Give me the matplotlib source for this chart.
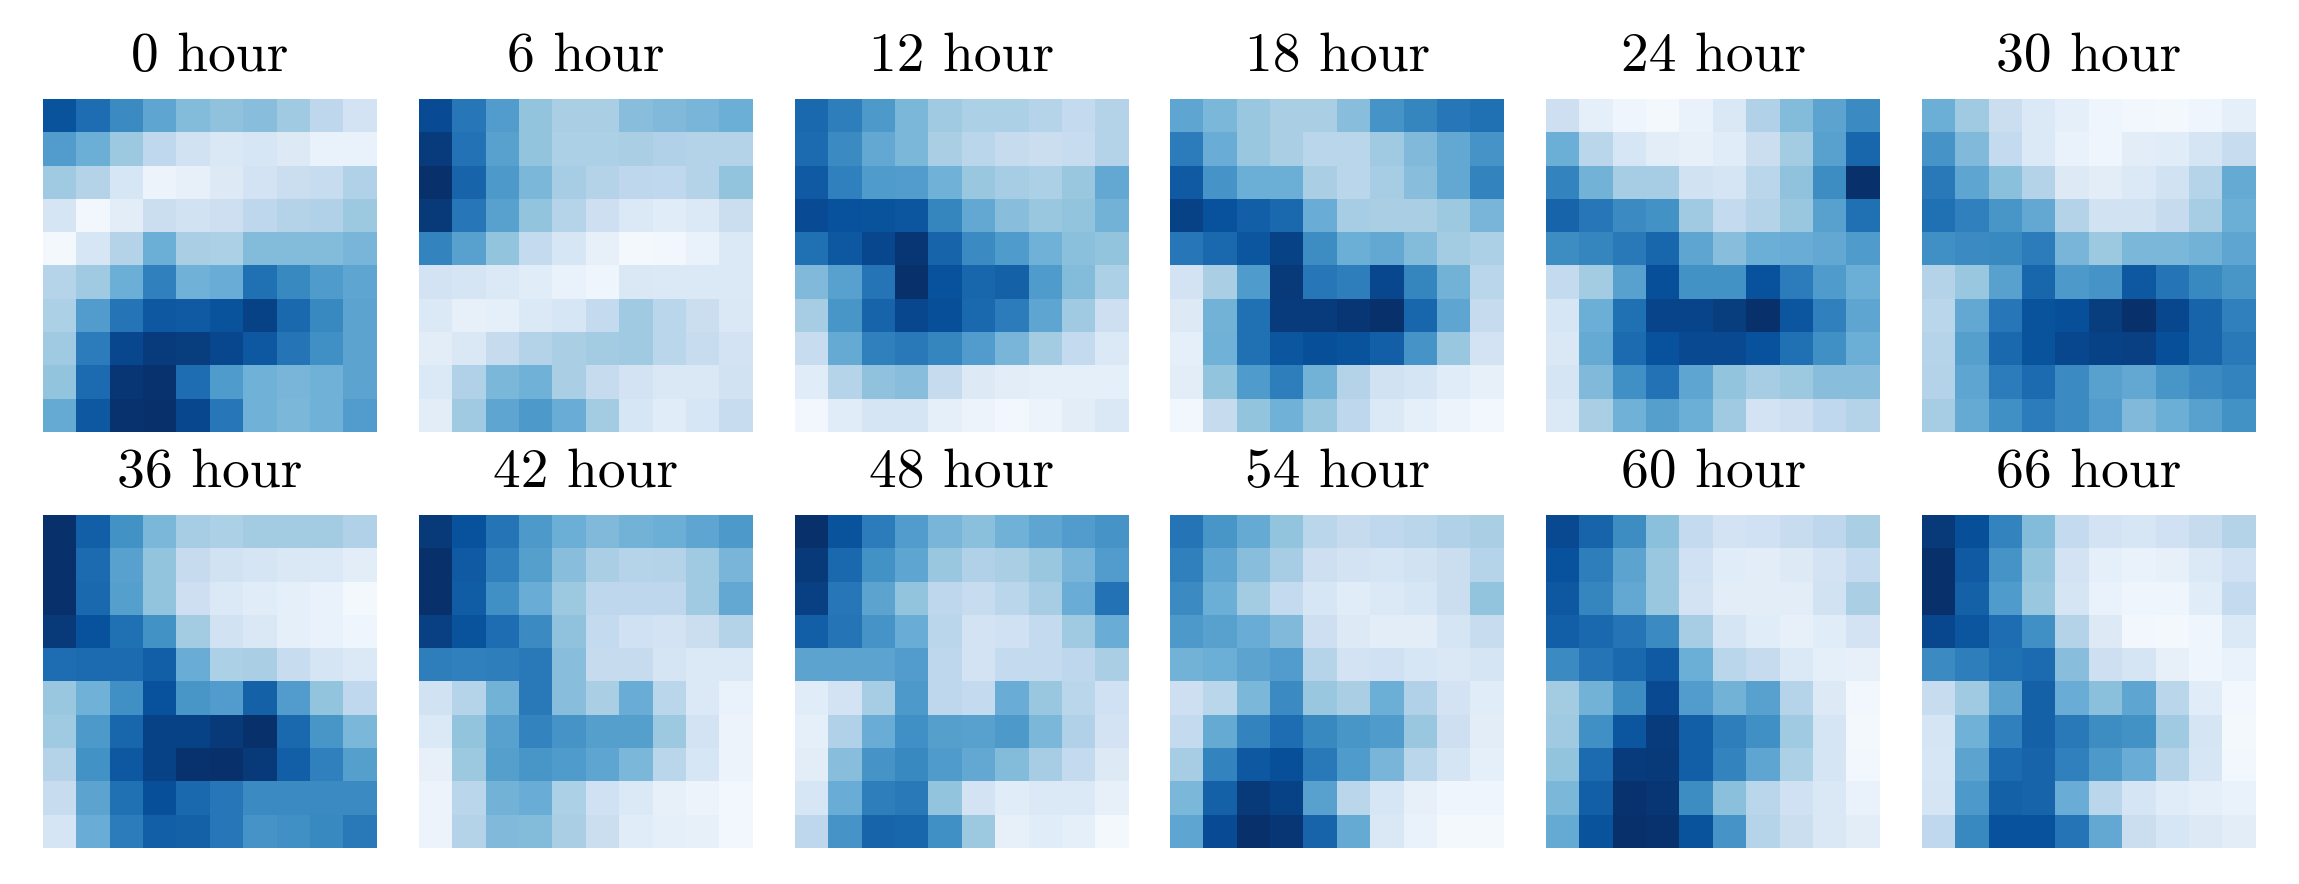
import numpy as np
import matplotlib
matplotlib.use("Agg")
import matplotlib.pyplot as plt
from matplotlib.colors import PowerNorm

plt.rcParams['font.family'] = ['cmr10', 'DejaVu Serif']
plt.rcParams['axes.formatter.use_mathtext'] = True

hours = [0, 6, 12, 18, 24, 30, 36, 42, 48, 54, 60, 66]

hour_0 = [[85, 74, 62, 50, 40, 37, 39, 33, 24, 15],
          [54, 46, 34, 23, 16, 12, 13, 10, 5, 5],
          [33, 27, 13, 4, 6, 10, 15, 19, 20, 28],
          [14, 2, 8, 19, 16, 18, 24, 27, 28, 34],
          [1, 13, 27, 46, 30, 29, 40, 40, 40, 43],
          [26, 33, 46, 66, 45, 47, 73, 63, 55, 50],
          [29, 54, 71, 83, 82, 85, 92, 76, 63, 51],
          [33, 68, 90, 95, 94, 90, 83, 71, 60, 51],
          [36, 75, 97, 99, 74, 55, 45, 43, 45, 51],
          [48, 83, 99, 100, 90, 70, 45, 42, 45, 54]]
hour_6 = [[88, 70, 54, 36, 30, 30, 39, 41, 43, 46],
          [95, 72, 52, 36, 29, 29, 30, 28, 27, 27],
          [100, 78, 56, 42, 31, 27, 24, 23, 27, 36],
          [96, 70, 52, 36, 26, 18, 11, 9, 11, 19],
          [65, 52, 36, 22, 13, 6, 1, 2, 5, 11],
          [15, 14, 11, 9, 5, 3, 12, 11, 11, 11],
          [11, 6, 7, 11, 13, 22, 33, 25, 19, 12],
          [8, 12, 21, 27, 30, 32, 33, 25, 20, 15],
          [11, 28, 42, 45, 30, 21, 15, 12, 12, 16],
          [8, 33, 50, 56, 47, 32, 13, 9, 13, 20]]
hour_12 = [[76, 67, 56, 42, 33, 29, 29, 26, 22, 27],
           [75, 62, 49, 42, 30, 25, 21, 19, 20, 27],
           [82, 66, 55, 54, 45, 35, 31, 29, 35, 49],
           [88, 86, 85, 84, 64, 49, 39, 35, 36, 44],
           [73, 83, 90, 97, 78, 62, 55, 45, 38, 36],
           [41, 52, 71, 100, 86, 77, 79, 55, 40, 29],
           [31, 57, 78, 90, 87, 76, 68, 50, 33, 18],
           [20, 48, 66, 69, 64, 54, 43, 32, 22, 11],
           [9, 26, 37, 39, 21, 10, 8, 7, 7, 7],
           [2, 9, 14, 14, 7, 4, 2, 4, 8, 12]]
hour_18 = [[50, 42, 35, 30, 30, 39, 58, 64, 70, 73],
           [68, 47, 35, 30, 25, 25, 33, 41, 49, 58],
           [82, 58, 46, 46, 30, 25, 31, 39, 49, 65],
           [92, 86, 80, 76, 47, 31, 30, 30, 34, 43],
           [70, 76, 84, 92, 61, 46, 49, 40, 32, 29],
           [15, 30, 55, 96, 70, 67, 90, 64, 44, 25],
           [10, 44, 73, 95, 95, 97, 100, 77, 50, 21],
           [7, 45, 73, 84, 87, 85, 80, 58, 35, 15],
           [8, 36, 55, 67, 44, 27, 16, 14, 9, 6],
           [2, 21, 36, 45, 35, 24, 11, 7, 4, 2]]
hour_24 = [[18, 7, 3, 1, 5, 12, 28, 40, 51, 62],
           [46, 25, 13, 8, 6, 9, 19, 32, 52, 77],
           [65, 44, 31, 31, 16, 14, 25, 37, 61, 100],
           [78, 70, 62, 59, 33, 22, 27, 35, 52, 73],
           [61, 64, 69, 77, 50, 39, 46, 47, 49, 55],
           [22, 32, 52, 87, 59, 59, 86, 68, 55, 46],
           [13, 46, 73, 91, 91, 94, 100, 84, 66, 50],
           [12, 48, 75, 86, 89, 89, 86, 73, 60, 46],
           [14, 41, 60, 72, 50, 36, 31, 34, 39, 39],
           [11, 30, 45, 53, 46, 33, 15, 18, 23, 27]]
hour_30 = [[46, 33, 19, 11, 7, 3, 2, 1, 3, 7],
           [58, 41, 22, 11, 5, 3, 8, 9, 14, 20],
           [69, 50, 38, 27, 10, 8, 11, 16, 26, 48],
           [73, 66, 57, 49, 27, 16, 16, 21, 31, 46],
           [60, 62, 63, 68, 43, 34, 42, 42, 44, 50],
           [27, 35, 52, 77, 56, 58, 83, 71, 63, 57],
           [25, 49, 70, 85, 87, 94, 100, 90, 78, 66],
           [26, 53, 76, 85, 90, 92, 93, 87, 78, 69],
           [27, 50, 68, 75, 62, 52, 49, 57, 62, 65],
           [31, 48, 60, 68, 62, 54, 41, 46, 52, 59]]
hour_36 = [[100, 80, 59, 42, 31, 29, 32, 32, 32, 28],
           [100, 75, 52, 36, 21, 16, 14, 12, 11, 8],
           [100, 76, 53, 36, 18, 11, 9, 7, 5, 1],
           [96, 86, 73, 59, 32, 16, 12, 7, 5, 3],
           [74, 75, 75, 80, 47, 29, 30, 20, 14, 11],
           [35, 45, 60, 86, 57, 54, 79, 54, 36, 23],
           [33, 56, 77, 92, 92, 96, 100, 76, 57, 42],
           [27, 59, 83, 92, 99, 100, 96, 80, 66, 53],
           [20, 51, 73, 87, 76, 70, 62, 62, 62, 62],
           [14, 47, 68, 80, 79, 70, 58, 60, 63, 69]]
hour_42 = [[96, 86, 71, 56, 46, 41, 44, 46, 50, 56],
           [100, 82, 66, 53, 39, 30, 26, 27, 33, 43],
           [100, 81, 60, 47, 34, 24, 24, 24, 33, 49],
           [93, 85, 74, 62, 37, 22, 17, 15, 19, 27],
           [67, 66, 67, 69, 39, 21, 21, 14, 11, 11],
           [16, 26, 44, 69, 39, 30, 47, 25, 11, 5],
           [11, 36, 52, 65, 58, 53, 53, 34, 15, 4],
           [6, 34, 53, 57, 55, 50, 42, 25, 13, 4],
           [4, 25, 44, 47, 29, 17, 11, 6, 4, 2],
           [4, 27, 41, 40, 30, 19, 9, 7, 6, 2]]
hour_48 = [[100, 85, 68, 54, 43, 38, 45, 50, 54, 58],
           [96, 76, 59, 50, 35, 28, 30, 35, 43, 54],
           [93, 70, 51, 36, 24, 20, 25, 31, 47, 72],
           [80, 71, 58, 47, 25, 15, 17, 22, 33, 47],
           [51, 51, 51, 54, 24, 15, 22, 22, 24, 30],
           [9, 15, 31, 56, 24, 22, 47, 35, 25, 17],
           [7, 28, 47, 60, 53, 52, 56, 42, 28, 15],
           [8, 39, 58, 63, 55, 49, 40, 31, 22, 10],
           [13, 47, 67, 69, 36, 15, 9, 11, 11, 6],
           [24, 58, 78, 77, 60, 34, 6, 9, 7, 1]]
hour_54 = [[71, 57, 48, 36, 25, 21, 23, 25, 28, 30],
           [66, 50, 39, 31, 18, 15, 14, 16, 19, 26],
           [62, 46, 32, 22, 13, 9, 11, 13, 19, 36],
           [56, 52, 47, 41, 18, 10, 8, 8, 14, 20],
           [44, 46, 51, 54, 26, 15, 17, 13, 12, 14],
           [18, 25, 42, 62, 35, 30, 46, 28, 15, 9],
           [22, 48, 65, 74, 63, 57, 55, 35, 18, 8],
           [31, 65, 83, 87, 69, 55, 43, 25, 14, 7],
           [42, 79, 96, 92, 52, 25, 13, 6, 3, 3],
           [50, 88, 100, 97, 78, 48, 12, 5, 1, 1]]
hour_60 = [[89, 78, 61, 38, 22, 15, 17, 20, 24, 30],
           [86, 67, 51, 35, 17, 9, 8, 10, 15, 22],
           [83, 64, 49, 35, 15, 8, 8, 8, 16, 30],
           [80, 76, 71, 62, 31, 14, 9, 6, 9, 15],
           [62, 71, 76, 82, 46, 25, 21, 11, 7, 6],
           [32, 44, 61, 89, 54, 44, 52, 26, 10, 2],
           [33, 60, 84, 95, 80, 67, 60, 33, 14, 1],
           [36, 75, 95, 96, 80, 65, 50, 29, 14, 2],
           [42, 80, 99, 97, 61, 38, 25, 17, 12, 5],
           [48, 85, 100, 99, 85, 58, 26, 19, 12, 8]]
hour_66 = [[96, 87, 65, 40, 22, 15, 13, 17, 21, 27],
           [100, 82, 58, 36, 15, 7, 5, 6, 11, 17],
           [100, 79, 55, 35, 14, 5, 3, 3, 9, 22],
           [90, 84, 74, 60, 27, 10, 2, 1, 3, 11],
           [62, 67, 73, 75, 39, 18, 14, 6, 3, 5],
           [20, 33, 51, 79, 47, 38, 50, 25, 9, 2],
           [14, 45, 66, 79, 69, 61, 59, 33, 14, 1],
           [13, 51, 75, 78, 66, 56, 47, 27, 13, 2],
           [14, 56, 79, 78, 47, 25, 14, 9, 7, 5],
           [23, 63, 86, 86, 71, 49, 19, 13, 10, 8]]

frames = [hour_0, hour_6, hour_12, hour_18, hour_24, hour_30,
          hour_36, hour_42, hour_48, hour_54, hour_60, hour_66]

fig, axes = plt.subplots(2, 6, figsize=(22.99, 8.84), dpi=100)
fig.subplots_adjust(left=43/2299, right=2256/2299, top=1-99/884, bottom=1-848/884,
                    wspace=42/334, hspace=83/333)

norm = PowerNorm(gamma=0.9, vmin=0, vmax=100)
for ax, hour, frame in zip(axes.flat, hours, frames):
    ax.imshow(np.array(frame), cmap="Blues", norm=norm, aspect="auto", interpolation="nearest")
    ax.set_title(f"{hour} hour", fontsize=40, pad=20)
    ax.axis("off")

fig.savefig("out.png", dpi=100)
